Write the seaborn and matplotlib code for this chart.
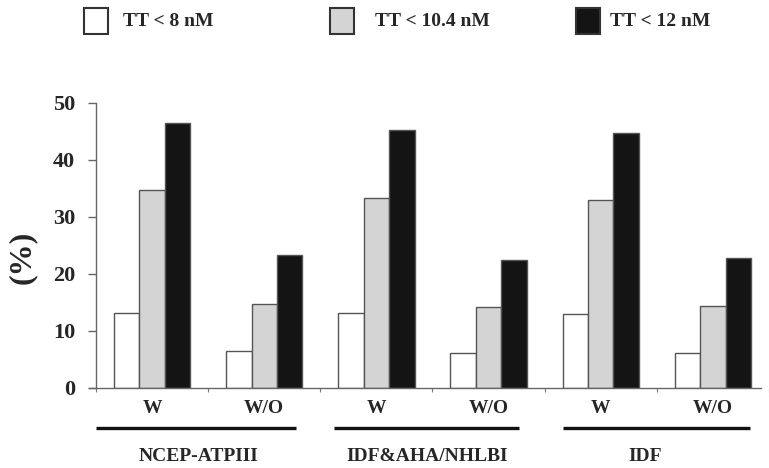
import pandas as pd
import numpy as np
import matplotlib.pyplot as plt
import matplotlib.transforms as mtransforms
from matplotlib.patches import Rectangle
import seaborn as sns

sns.set_theme(style="white")
plt.rcParams['font.family'] = ['Liberation Serif', 'DejaVu Serif']
plt.rcParams['font.weight'] = 'bold'

# data
subgroups = ['W', 'W/O', 'W ', 'W/O ', 'W  ', 'W/O  ']
tick_text = ['W', 'W/O', 'W', 'W/O', 'W', 'W/O']
criteria = ['NCEP-ATPIII', 'IDF&AHA/NHLBI', 'IDF']
levels = ['TT < 8 nM', 'TT < 10.4 nM', 'TT < 12 nM']
tt8 = [13.2, 6.5, 13.2, 6.1, 13.0, 6.1]
tt104 = [34.7, 14.7, 33.3, 14.2, 33.0, 14.4]
tt12 = [46.5, 23.3, 45.3, 22.5, 44.7, 22.8]

colors = ['#ffffff', '#d4d4d4', '#141414']

df = pd.DataFrame({
    'group': subgroups * 3,
    'level': np.repeat(levels, len(subgroups)),
    'value': tt8 + tt104 + tt12,
})

fig = plt.figure(figsize=(7.69, 4.68), dpi=100)
ax = fig.add_axes([0.1248, 0.171, 0.8752, 0.609])

sns.barplot(data=df, x='group', y='value', hue='level', order=subgroups,
            hue_order=levels, palette=colors, width=0.68, gap=0,
            edgecolor='#555555', linewidth=1.0, errorbar=None,
            legend=False, ax=ax, saturation=1)

ax.set_ylim(0, 50)
ax.set_xlim(-0.5, 5.43)
ax.set_yticks([0, 10, 20, 30, 40, 50])
ax.set_yticklabels(['0', '10', '20', '30', '40', '50'], fontsize=16, fontweight='bold')
ax.set_xticks(range(6))
ax.set_xticklabels(tick_text, fontsize=14, fontweight='bold')
ax.set_xticks(np.arange(-0.5, 6, 1), minor=True)
ax.tick_params(axis='x', which='major', length=0, pad=9)
ax.tick_params(axis='x', which='minor', length=3, width=0.8, color='#777777', direction='out')
ax.tick_params(axis='y', length=6, width=1.0, color='#666666', direction='out', pad=9)
ax.yaxis.set_ticks_position('left')
ax.xaxis.set_ticks_position('bottom')
ax.set_xlabel('')
ax.set_ylabel('')
fig.text(22 / 769, 1 - 257 / 468, '(%)', rotation=90, ha='center', va='center',
         fontsize=23, fontweight='bold')

for side in ['top', 'right']:
    ax.spines[side].set_visible(False)
for side in ['left', 'bottom']:
    ax.spines[side].set_color('#666666')
    ax.spines[side].set_linewidth(1.0)
ax.spines['bottom'].set_bounds(-0.56, 5.43)

# criteria lines and labels under the axis
trans = mtransforms.blended_transform_factory(ax.transData, ax.transAxes)
spans = [(-0.5, 1.28), (1.62, 3.27), (3.66, 5.33)]
centers = [0.41, 2.45, 4.40]
for (x0, x1), xc, name in zip(spans, centers, criteria):
    ax.plot([x0, x1], [-0.14, -0.14], color='#111111', lw=2.4,
            transform=trans, clip_on=False, solid_capstyle='butt')
    ax.text(xc, -0.242, name, transform=trans, ha='center', va='center',
            fontsize=14, fontweight='bold')

# legend across the top
leg_x = [84, 330, 576]
text_x = [123, 375, 610]
for lx, tx, col, lab in zip(leg_x, text_x, colors, levels):
    fig.patches.append(Rectangle((lx / 769, 1 - 34 / 468), 24 / 769, 26 / 468,
                                 transform=fig.transFigure, facecolor=col,
                                 edgecolor='#333333', linewidth=1.5))
    fig.text(tx / 769, 1 - 21 / 468, lab, ha='left', va='center',
             fontsize=14, fontweight='bold')

plt.savefig('out.png', dpi=100)
